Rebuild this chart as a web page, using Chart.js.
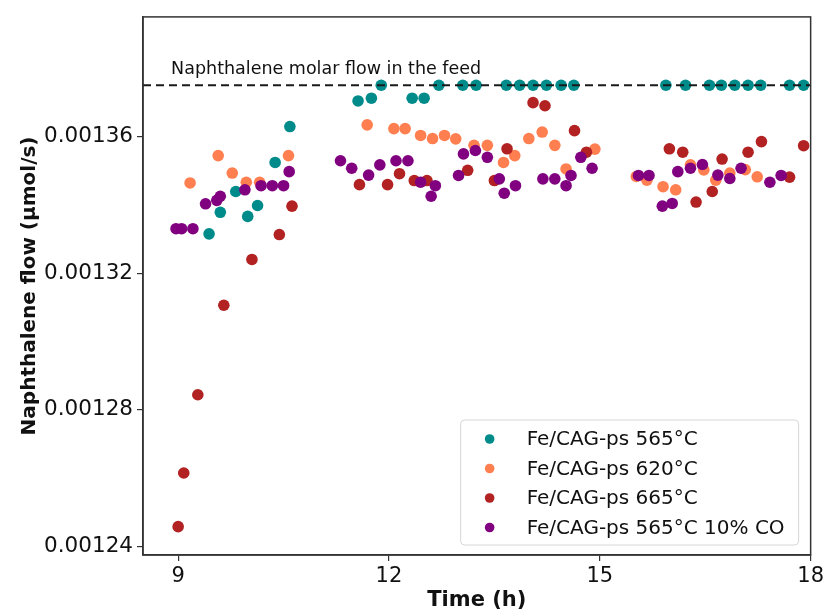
<!DOCTYPE html>
<html>
<head>
<meta charset="utf-8">
<title>Naphthalene flow</title>
<script src="https://cdn.jsdelivr.net/npm/chart.js@4.4.1/dist/chart.umd.min.js"></script>
<style>
  body { margin: 0; background: #fff; }
  canvas { display: block; }
</style>
</head>
<body>
<canvas id="flowChart" width="827" height="613"></canvas>
<script>
    // time (h) and naphthalene flow (umol/s) per run
    const t565 = [9.44, 9.60, 9.82, 9.99, 10.13, 10.38, 10.59,
      11.56, 11.75, 11.89, 12.33, 12.50, 12.71, 13.05, 13.24, 13.67, 13.86, 14.05, 14.24, 14.45, 14.63,
      15.94, 16.22, 16.56, 16.73, 16.92, 17.11, 17.29, 17.70, 17.90];
    const flow565 = [0.0013315, 0.0013378, 0.0013439, 0.0013366, 0.0013398, 0.0013524, 0.0013629,
      0.0013704, 0.0013712, 0.001375, 0.0013712, 0.0013712, 0.001375, 0.001375, 0.001375, 0.001375, 0.001375, 0.001375, 0.001375, 0.001375, 0.001375,
      0.001375, 0.001375, 0.001375, 0.001375, 0.001375, 0.001375, 0.001375, 0.001375, 0.001375];

    const t620 = [9.17, 9.57, 9.77, 9.97, 10.16, 10.57,
      11.69, 12.07, 12.23, 12.45, 12.62, 12.79, 12.95, 13.21, 13.40, 13.63, 13.79, 13.99, 14.18, 14.36, 14.52, 14.93,
      15.52, 15.67, 15.90, 16.08, 16.29, 16.48, 16.65, 16.85, 17.07, 17.24];
    const flow620 = [0.0013464, 0.0013544, 0.0013493, 0.0013466, 0.0013466, 0.0013544,
      0.0013634, 0.0013623, 0.0013623, 0.0013603, 0.0013594, 0.0013603, 0.0013593, 0.0013574, 0.0013574, 0.0013524, 0.0013544, 0.0013594, 0.0013613, 0.0013574, 0.0013505, 0.0013563,
      0.0013483, 0.0013472, 0.0013453, 0.0013444, 0.0013517, 0.0013502, 0.0013472, 0.0013493, 0.0013503, 0.0013482];

    const t665 = [9.00, 9.08, 9.28, 9.65, 10.05, 10.44, 10.62,
      11.58, 11.98, 12.15, 12.36, 12.54, 13.12, 13.50, 13.68, 14.05, 14.22, 14.64, 14.81,
      15.99, 16.18, 16.37, 16.60, 16.74, 17.11, 17.30, 17.70, 17.90];
    const flow665 = [0.0012458, 0.0012615, 0.0012844, 0.0013106, 0.001324, 0.0013313, 0.0013396,
      0.0013459, 0.0013459, 0.0013491, 0.0013471, 0.0013471, 0.0013501, 0.0013471, 0.0013564, 0.0013699, 0.001369, 0.0013617, 0.0013554,
      0.0013564, 0.0013554, 0.0013408, 0.0013439, 0.0013534, 0.0013554, 0.0013585, 0.0013481, 0.0013573];

    const t565co = [8.97, 9.05, 9.21, 9.39, 9.55, 9.60, 9.95, 10.18, 10.34, 10.50, 10.58,
      11.31, 11.47, 11.71, 11.87, 12.10, 12.27, 12.45, 12.60, 12.66, 12.99, 13.06, 13.23, 13.40, 13.57, 13.64, 13.80, 14.19, 14.36, 14.52, 14.59, 14.73, 14.89,
      15.55, 15.70, 15.89, 16.03, 16.11, 16.29, 16.46, 16.68, 16.85, 17.01, 17.42, 17.58];
    const flow565co = [0.001333, 0.001333, 0.001333, 0.0013403, 0.0013413, 0.0013425, 0.0013444, 0.0013456, 0.0013456, 0.0013456, 0.0013497,
      0.0013529, 0.0013507, 0.0013487, 0.0013517, 0.0013529, 0.0013529, 0.0013466, 0.0013425, 0.0013456, 0.0013486, 0.0013549, 0.0013559, 0.0013539, 0.0013476, 0.0013434, 0.0013456, 0.0013476, 0.0013476, 0.0013456, 0.0013486, 0.0013539, 0.0013507,
      0.0013486, 0.0013486, 0.0013396, 0.0013404, 0.0013497, 0.0013507, 0.0013518, 0.0013487, 0.0013477, 0.0013507, 0.0013466, 0.0013486];

    const feedFlow = 0.001375;
    const feedLabel = "Naphthalene molar flow in the feed";

    const xTicks = [9, 12, 15, 18];
    const yTicks = [0.00124, 0.00128, 0.00132, 0.00136];

    const seriesLabels = ["Fe/CAG-ps 565°C", "Fe/CAG-ps 620°C", "Fe/CAG-ps 665°C", "Fe/CAG-ps 565°C 10% CO"];
    const seriesColors = ["#008b8b", "#ff7f50", "#b22222", "#800080"];

    const font = "'DejaVu Sans', sans-serif";
    const ink = "#111";
    const axisColor = "#333";

    function toPoints(xs, ys) {
      return xs.map((x, i) => ({ x: x, y: ys[i] }));
    }

    function scatterSet(i, xs, ys) {
      return {
        type: "scatter",
        label: seriesLabels[i],
        data: toPoints(xs, ys),
        backgroundColor: seriesColors[i],
        borderWidth: 0,
        pointRadius: 5.8,
        order: 4 - i
      };
    }

    // frame, feed label and legend drawn over the chart
    const extras = {
      id: "extras",
      afterDatasetsDraw(chart) {
        const ctx = chart.ctx;
        const a = chart.chartArea;
        const xs = chart.scales.x;
        const ys = chart.scales.y;

        ctx.save();
        ctx.strokeStyle = axisColor;
        ctx.lineWidth = 1.5;
        ctx.strokeRect(a.left, a.top, a.right - a.left, a.bottom - a.top);

        ctx.fillStyle = ink;
        ctx.font = "17.5px " + font;
        ctx.textBaseline = "middle";
        ctx.textAlign = "left";
        ctx.fillText(feedLabel, xs.getPixelForValue(8.9), ys.getPixelForValue(0.0013797));

        // legend box
        const w = 338, h = 125;
        const bx = a.right - 12 - w;
        const by = a.bottom - 10 - h;
        ctx.fillStyle = "rgba(255,255,255,0.85)";
        ctx.strokeStyle = "#d6d6d6";
        ctx.lineWidth = 1;
        ctx.beginPath();
        ctx.roundRect(bx, by, w, h, 4);
        ctx.fill();
        ctx.stroke();

        ctx.font = "20px " + font;
        seriesLabels.forEach((lab, i) => {
          const cy = by + 19 + i * 29.5;
          ctx.fillStyle = seriesColors[i];
          ctx.beginPath();
          ctx.arc(bx + 29, cy, 4.8, 0, Math.PI * 2);
          ctx.fill();
          ctx.fillStyle = ink;
          ctx.fillText(lab, bx + 66, cy + 1);
        });
        ctx.restore();
      }
    };

    new Chart(document.getElementById("flowChart"), {
      data: {
        datasets: [
          scatterSet(0, t565, flow565),
          scatterSet(1, t620, flow620),
          scatterSet(2, t665, flow665),
          scatterSet(3, t565co, flow565co),
          {
            type: "line",
            label: feedLabel,
            data: [{ x: 8.5, y: feedFlow }, { x: 18, y: feedFlow }],
            borderColor: "#1a1a1a",
            borderWidth: 2,
            borderDash: [8, 5],
            pointRadius: 0,
            order: 0
          }
        ]
      },
      options: {
        responsive: false,
        animation: false,
        layout: { padding: { top: 16, right: 14, left: 0, bottom: 0 } },
        plugins: {
          legend: { display: false },
          tooltip: { enabled: false }
        },
        scales: {
          x: {
            type: "linear",
            min: 8.5,
            max: 18,
            afterBuildTicks: (s) => { s.ticks = xTicks.map(v => ({ value: v })); },
            afterFit: (s) => { s.height = 58; },
            ticks: {
              color: ink,
              font: { family: font, size: 21 },
              padding: 3,
              maxRotation: 0,
              callback: (v) => String(v)
            },
            grid: { drawOnChartArea: false, drawTicks: true, tickLength: 6, color: axisColor, lineWidth: 1.2 },
            border: { display: true, color: axisColor, width: 1.5 },
            title: {
              display: true,
              text: "Time (h)",
              color: ink,
              font: { family: font, size: 21, weight: "bold" },
              padding: { top: 0, bottom: 0 }
            }
          },
          y: {
            type: "linear",
            min: 0.0012375,
            max: 0.001395,
            afterBuildTicks: (s) => { s.ticks = yTicks.map(v => ({ value: v })); },
            afterFit: (s) => { s.width = 143; },
            ticks: {
              color: ink,
              font: { family: font, size: 21.5 },
              padding: 4,
              callback: (v) => v.toFixed(5)
            },
            grid: { drawOnChartArea: false, drawTicks: true, tickLength: 6, color: axisColor, lineWidth: 1.2 },
            border: { display: true, color: axisColor, width: 1.5 },
            title: {
              display: true,
              text: "Naphthalene flow (μmol/s)",
              color: ink,
              font: { family: font, size: 20, weight: "bold" },
              padding: { top: 18, bottom: 0 }
            }
          }
        }
      },
      plugins: [extras]
    });
</script>
</body>
</html>
